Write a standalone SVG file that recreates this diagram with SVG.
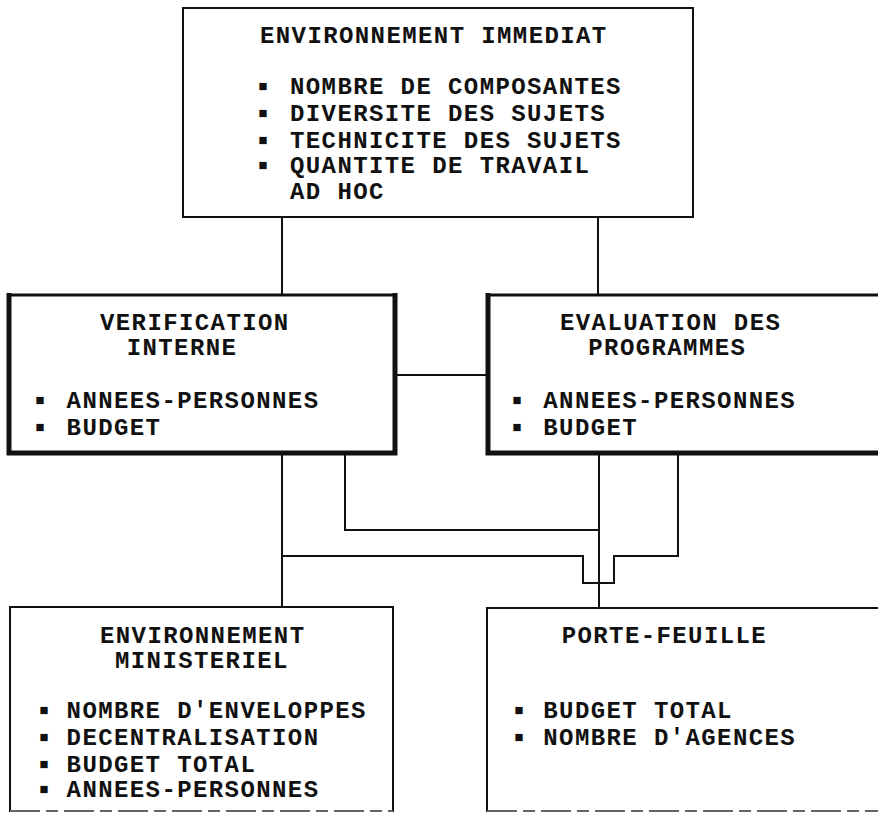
<svg xmlns="http://www.w3.org/2000/svg" width="878" height="816" viewBox="0 0 878 816">
<style>
text{font-family:"Liberation Mono","DejaVu Sans Mono",monospace;font-weight:bold;font-size:24px;letter-spacing:1.4px;fill:#111}
text.b{font-size:15px;letter-spacing:0;text-anchor:middle}
.thin{fill:none;stroke:#111;stroke-width:2}
.thick{fill:none;stroke:#111;stroke-width:5}
.mid{fill:none;stroke:#111;stroke-width:3}
.faint{fill:none;stroke:#666;stroke-width:2;stroke-dasharray:30 6 12 6}
.conn{fill:none;stroke:#111;stroke-width:2}
</style>
<rect x="0" y="0" width="878" height="816" fill="#fff"/>
<g id="connectors">
<line class="conn" x1="282" y1="217" x2="282" y2="295"/>
<line class="conn" x1="598" y1="217" x2="598" y2="295"/>
<line class="conn" x1="395" y1="375" x2="488" y2="375"/>
<line class="conn" x1="282" y1="453" x2="282" y2="607"/>
<polyline class="conn" points="345,453 345,530 599,530"/>
<line class="conn" x1="599" y1="453" x2="599" y2="608"/>
<polyline class="conn" points="678,453 678,556 614,556 614,583 583,583 583,556 282,556"/>
</g>
<g id="environnement-immediat">
<rect class="thin" x="183" y="8" width="510" height="209"/>
<text x="260" y="43">ENVIRONNEMENT IMMEDIAT</text>
<text class="b" x="263" y="91">■</text><text x="290" y="94.3">NOMBRE DE COMPOSANTES</text>
<text class="b" x="263" y="117.5">■</text><text x="290" y="120.7">DIVERSITE DES SUJETS</text>
<text class="b" x="263" y="144.5">■</text><text x="290" y="147.7">TECHNICITE DES SUJETS</text>
<text class="b" x="263" y="170">■</text><text x="290" y="173">QUANTITE DE TRAVAIL</text>
<text x="290" y="199.3">AD HOC</text>
</g>
<g id="verification-interne">
<line class="mid" x1="9" y1="295" x2="395" y2="295"/>
<polyline class="thick" points="9,293 9,453 395,453 395,293"/>
<text x="100" y="330">VERIFICATION</text>
<text x="126.7" y="355">INTERNE</text>
<text class="b" x="40" y="405">■</text><text x="66.6" y="408.3">ANNEES-PERSONNES</text>
<text class="b" x="40" y="432">■</text><text x="66.6" y="435">BUDGET</text>
</g>
<g id="evaluation-programmes">
<line class="mid" x1="488" y1="295" x2="880" y2="295"/>
<polyline class="thick" points="488,293 488,453 880,453"/>
<text x="560" y="330">EVALUATION DES</text>
<text x="588.3" y="355">PROGRAMMES</text>
<text class="b" x="517" y="405">■</text><text x="543.3" y="408.3">ANNEES-PERSONNES</text>
<text class="b" x="517" y="432">■</text><text x="543.3" y="435">BUDGET</text>
</g>
<g id="environnement-ministeriel">
<polyline class="thin" points="10,812 10,607 393,607 393,812"/>
<line class="faint" x1="10" y1="811" x2="393" y2="811"/>
<text x="100" y="643.3">ENVIRONNEMENT</text>
<text x="115" y="668.3">MINISTERIEL</text>
<text class="b" x="44" y="715">■</text><text x="66.6" y="718.3">NOMBRE D'ENVELOPPES</text>
<text class="b" x="44" y="742">■</text><text x="66.6" y="745">DECENTRALISATION</text>
<text class="b" x="44" y="768.5">■</text><text x="66.6" y="771.7">BUDGET TOTAL</text>
<text class="b" x="44" y="794">■</text><text x="66.6" y="797.3">ANNEES-PERSONNES</text>
</g>
<g id="porte-feuille">
<polyline class="thin" points="487,812 487,608 880,608"/>
<line class="faint" x1="487" y1="811" x2="880" y2="811"/>
<text x="561.7" y="643.3">PORTE-FEUILLE</text>
<text class="b" x="519" y="715">■</text><text x="543.3" y="718.3">BUDGET TOTAL</text>
<text class="b" x="519" y="742">■</text><text x="543.3" y="745">NOMBRE D'AGENCES</text>
</g>
</svg>
